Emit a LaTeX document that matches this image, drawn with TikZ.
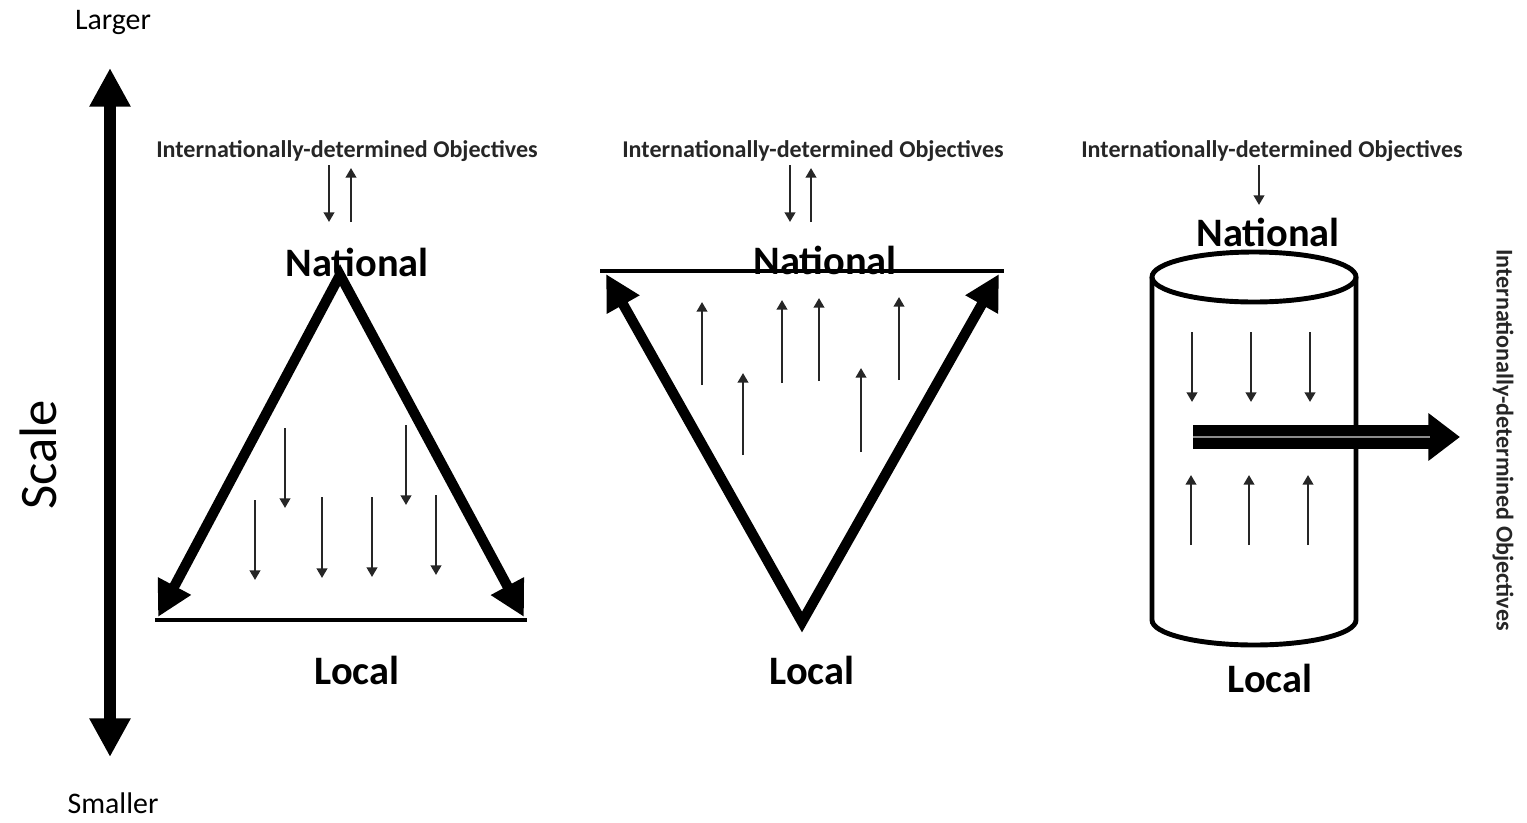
\documentclass[tikz,border=0pt]{standalone}
\usepackage{fontspec}
\setmainfont{Carlito}
\usetikzlibrary{arrows.meta}
\tikzset{
  lbl/.style={inner sep=0pt, font=\fontsize{17}{17}\selectfont},
  objlbl/.style={inner sep=0pt, font=\bfseries\fontsize{13.7}{14}\selectfont, text=black!85},
  lvl/.style={inner sep=0pt, font=\bfseries\fontsize{23}{23}\selectfont},
  thinarrow/.style={line width=1.3pt, black!85, -{Triangle[length=5.5pt,width=6pt]}},
  bigarrow/.style={line width=5.8pt, line join=miter, {Triangle[length=20pt,width=20pt]}-{Triangle[length=20pt,width=20pt]}},
  base/.style={line width=2.4pt},
}
\begin{document}
\begin{tikzpicture}[x=0.02cm,y=-0.02cm]
\useasboundingbox (0,0) rectangle (1527,822);
% scale axis
\node[lbl] (larger) at (113,22) {Larger};
\node[lbl] (smaller) at (113,803) {Smaller};
\node[inner sep=0pt, font=\fontsize{30}{30}\selectfont, rotate=90] (scale) at (38,455) {Scale};
\coordinate (sTop) at (110,68);
\coordinate (sBot) at (110,757);
\draw[line width=7pt, {Triangle[length=22pt,width=22pt]}-{Triangle[length=22pt,width=22pt]}] (sTop) -- (sBot);

% ---------- triangle 1 ----------
\node[objlbl] (obj1) at (347,151) {Internationally-determined Objectives};
\node[lvl] (nat1) at (357,262) {National};
\node[lvl] (loc1) at (357,670) {Local};
\draw[thinarrow] (329,165) -- (329,222);
\draw[thinarrow] (351,222) -- (351,168);
\coordinate (t1a) at (340,275);
\coordinate (t1l) at (158,617);
\coordinate (t1r) at (524,617);
\draw[base] (155,620) -- (527,620);
\draw[bigarrow] (t1l) -- (t1a) -- (t1r);
\foreach \x/\ya/\yb in {285/428/508, 255/500/580, 322/497/578, 372/497/577, 406/425/505, 436/495/575}
  \draw[thinarrow] (\x,\ya) -- (\x,\yb);

% ---------- triangle 2 ----------
\node[objlbl] (obj2) at (813,151) {Internationally-determined Objectives};
\node[lvl] (nat2) at (825,260) {National};
\node[lvl] (loc2) at (812,670) {Local};
\draw[thinarrow] (790,165) -- (790,222);
\draw[thinarrow] (811,222) -- (811,168);
\draw[base] (600,271) -- (1004,271);
\coordinate (t2b) at (802,622);
\coordinate (t2l) at (606,274);
\coordinate (t2r) at (999,274);
\draw[bigarrow] (t2l) -- (t2b) -- (t2r);
\foreach \x/\ya/\yb in {702/385/302, 743/455/373, 782/383/300, 819/381/298, 861/452/368, 899/380/297}
  \draw[thinarrow] (\x,\ya) -- (\x,\yb);

% ---------- cylinder ----------
\node[objlbl] (obj3) at (1272,151) {Internationally-determined Objectives};
\node[lvl] (nat3) at (1268,232) {National};
\node[lvl] (loc3) at (1270,678) {Local};
\draw[thinarrow] (1259,165) -- (1259,205);
\draw[line width=2.8pt] (1254,277) ellipse [x radius=102, y radius=25];
\draw[line width=2.8pt] (1152,277) -- (1152,620) arc [start angle=180, end angle=0, x radius=102, y radius=25] -- (1356,277);
\foreach \x in {1192,1251,1310}
  \draw[thinarrow] (\x,332) -- (\x,402);
\foreach \x in {1191,1249,1308}
  \draw[thinarrow] (\x,545) -- (\x,475);
\coordinate (dS) at (1193,437);
\coordinate (dE) at (1460,437);
\draw[line width=14pt, -{Triangle[length=18pt,width=26pt]}] (dS) -- (dE);
\draw[line width=1.6pt, black!45] (dS) -- (1430,437);
\node[objlbl, rotate=-90] (obj4) at (1503,440) {Internationally-determined Objectives};
\end{tikzpicture}
\end{document}
